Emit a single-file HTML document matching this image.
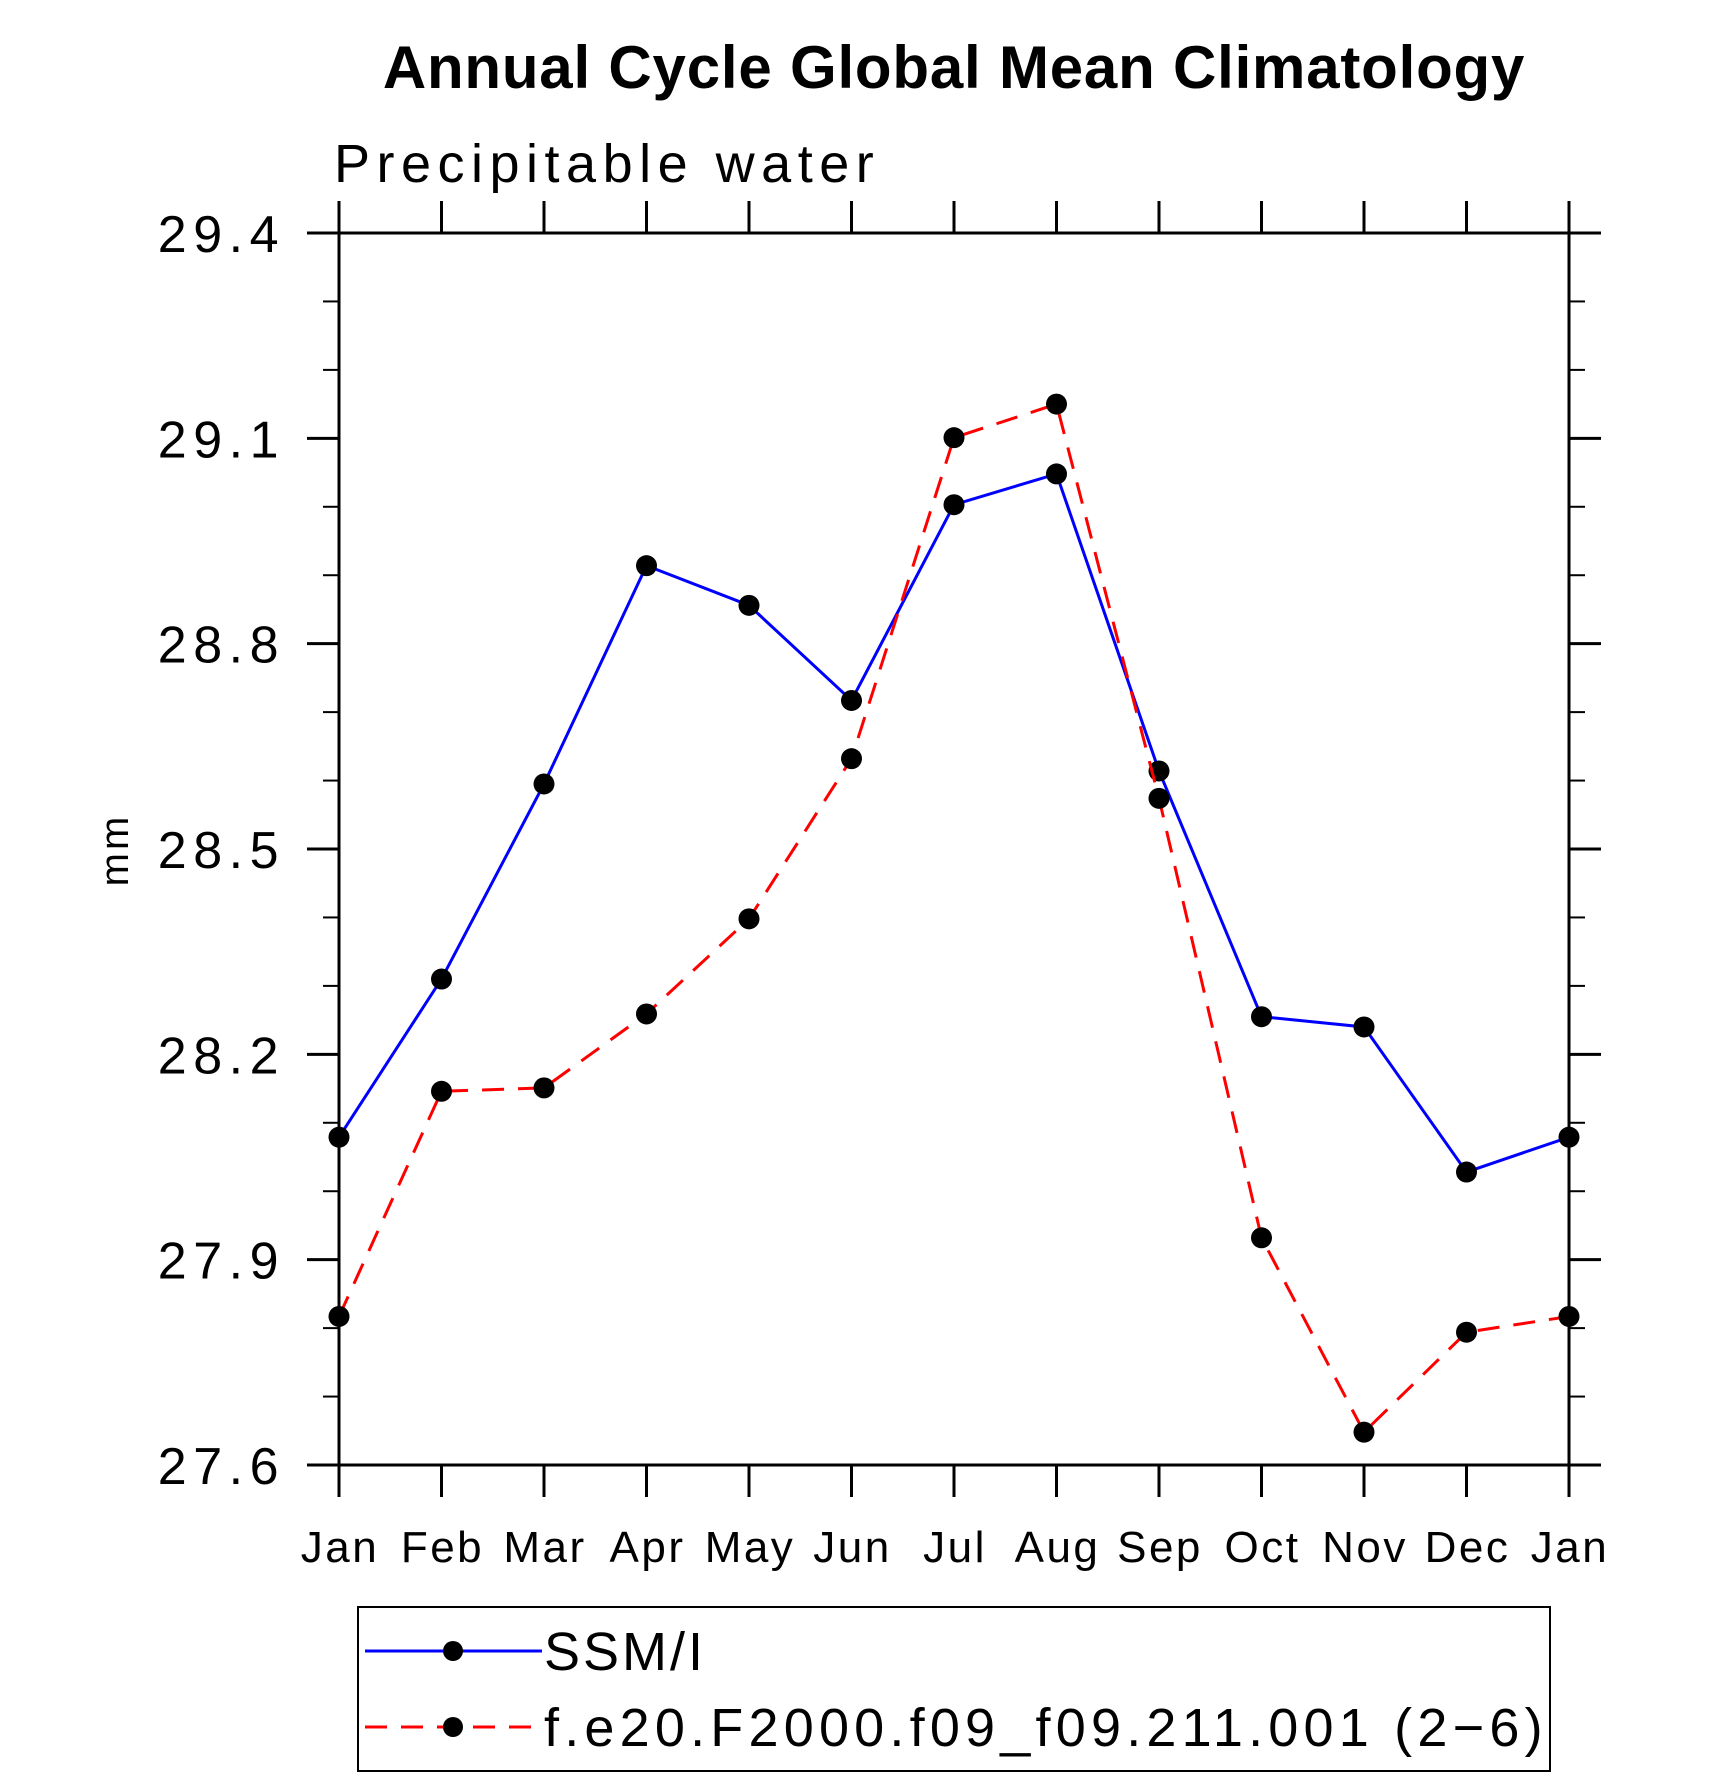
<!DOCTYPE html>
<html><head><meta charset="utf-8"><style>
html,body{margin:0;padding:0;background:#fff}
svg{display:block}
text{font-family:"Liberation Sans",sans-serif}
</style></head><body>
<svg id="chart" width="1710" height="1778" viewBox="0 0 1710 1778">
<text x="954" y="88" font-size="60" font-weight="bold" text-anchor="middle" letter-spacing="0.8">Annual Cycle Global Mean Climatology</text>
<text x="334" y="182" font-size="54" letter-spacing="6.5">Precipitable water</text>
<text transform="translate(128,850) rotate(-90)" font-size="40" letter-spacing="3" text-anchor="middle">mm</text>
<g id="axes"></g>
<g id="series"></g>
<rect x="358" y="1607" width="1192" height="164" fill="none" stroke="#000" stroke-width="2"/>
<g>
<line x1="365" y1="1651" x2="542" y2="1651" stroke="#0000ff" stroke-width="3"/>
<circle cx="453" cy="1651" r="10"/>
<text x="544" y="1670" font-size="54" letter-spacing="3">SSM/I</text>
</g>
<g>
<line x1="365" y1="1727" x2="542" y2="1727" stroke="#ff0000" stroke-width="3" stroke-dasharray="22,14"/>
<circle cx="453" cy="1727" r="10"/>
<text x="544" y="1746" font-size="54" letter-spacing="5.2">f.e20.F2000.f09_f09.211.001 (2−6)</text>
</g>
</svg>
<script>
const months = ["Jan","Feb","Mar","Apr","May","Jun","Jul","Aug","Sep","Oct","Nov","Dec","Jan"];
const ssmi = [28.079,28.31,28.595,28.914,28.856,28.717,29.003,29.048,28.614,28.255,28.24,28.028,28.079];
const model = [27.817,28.146,28.151,28.259,28.398,28.632,29.101,29.15,28.574,27.932,27.648,27.794,27.817];
const yTickLabels = ["27.6","27.9","28.2","28.5","28.8","29.1","29.4"];
const yMin = 27.6, yMax = 29.4;
const L=339,R=1569,T=233,B=1465;
const NS="http://www.w3.org/2000/svg";
function xs(i){return L+(R-L)*i/(months.length-1);}
function ys(v){return B-(B-T)*(v-yMin)/(yMax-yMin);}
function mk(tag,attrs,parent){const e=document.createElementNS(NS,tag);for(const k in attrs)e.setAttribute(k,attrs[k]);parent.appendChild(e);return e;}
const ax=document.getElementById('axes');
const frame=mk('rect',{x:L,y:T,width:R-L,height:B-T,fill:'none',stroke:'#000','stroke-width':3},ax);


months.forEach((m,i)=>{
  const x=xs(i);
  mk('line',{x1:x,y1:B,x2:x,y2:B+32,stroke:'#000','stroke-width':3},ax);
  mk('line',{x1:x,y1:T,x2:x,y2:T-32,stroke:'#000','stroke-width':3},ax);
  const t=mk('text',{x:x+1,y:1562,'font-size':44,'text-anchor':'middle','letter-spacing':2.5},ax);
  t.textContent=m;
  
  
});
for(let k=0;k<=18;k++){
  const v=yMin+k*0.1, y=ys(v), major=(k%3===0);
  const len=major?32:16;
  mk('line',{x1:L-len,y1:y,x2:L,y2:y,stroke:'#000','stroke-width':major?3:2},ax);
  mk('line',{x1:R,y1:y,x2:R+len,y2:y,stroke:'#000','stroke-width':major?3:2},ax);
}
yTickLabels.forEach(s=>{
  const t=mk('text',{x:285,y:ys(parseFloat(s))+19,'font-size':52,'text-anchor':'end','letter-spacing':6.5},ax);
  t.textContent=s;
  
  
});
const sg=document.getElementById('series');
function draw(vals,color,dash,name){
  const g=mk('g',{},sg);
  
  
  const pts=vals.map((v,i)=>xs(i)+','+ys(v)).join(' ');
  const a={points:pts,fill:'none',stroke:color,'stroke-width':3};
  if(dash)a['stroke-dasharray']=dash;
  mk('polyline',a,g);
  vals.forEach((v,i)=>{
    const c=mk('circle',{cx:xs(i),cy:ys(v),r:10.5,fill:'#000'},g);
    
    
  });
}
draw(ssmi,'#0000ff',null,'series-ssmi');
draw(model,'#ff0000','22,14','series-model');
</script>
</body></html>
